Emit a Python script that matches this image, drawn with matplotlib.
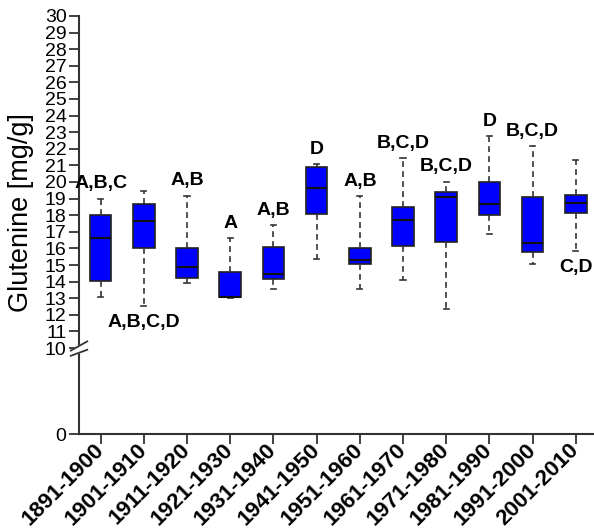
import numpy as np
import matplotlib
matplotlib.use("Agg")
import matplotlib.pyplot as plt
import matplotlib.transforms as mtransforms

plt.rcParams['font.family'] = ['Liberation Sans', 'DejaVu Sans']

# decades and box statistics
decades = ['1891-1900', '1901-1910', '1911-1920', '1921-1930', '1931-1940', '1941-1950',
           '1951-1960', '1961-1970', '1971-1980', '1981-1990', '1991-2000', '2001-2010']
whislo = [13.07, 12.53, 13.94, 13.00, 13.55, 15.38, 13.58, 14.12, 12.38, 16.86, 15.08, 15.86]
q1 = [14.03, 16.04, 14.21, 13.10, 14.15, 18.10, 15.04, 16.12, 16.36, 18.02, 15.80, 18.16]
med = [16.60, 17.68, 14.87, 13.10, 14.48, 19.62, 15.29, 17.74, 19.08, 18.70, 16.31, 18.72]
q3 = [18.04, 18.66, 16.00, 14.57, 16.06, 20.90, 16.03, 18.50, 19.38, 19.98, 19.08, 19.20]
whishi = [19.00, 19.46, 19.16, 16.60, 17.40, 21.08, 19.15, 21.44, 20.02, 22.76, 22.14, 21.34]

# significance groups and where they sit
groups = ['A,B,C', 'A,B,C,D', 'A,B', 'A', 'A,B', 'D', 'A,B', 'B,C,D', 'B,C,D', 'D', 'B,C,D', 'C,D']
group_pos = ['up', 'down', 'up', 'up', 'up', 'up', 'up', 'up', 'up', 'up', 'up', 'down']

yticks = [0] + list(range(10, 31))

# broken axis: below 10 the scale is squeezed
k = 0.518
def fwd(y):
    y = np.asarray(y, dtype=float)
    return np.where(y >= 10, y, 10 - (10 - y) * k)
def inv(t):
    t = np.asarray(t, dtype=float)
    return np.where(t >= 10, t, 10 - (10 - t) / k)

fig = plt.figure(figsize=(5.94, 5.30), dpi=100)
ax = fig.add_axes([0.133, 0.181, 0.867, 0.789])
ax.set_yscale('function', functions=(fwd, inv))

stats = []
for i in range(len(decades)):
    stats.append(dict(med=med[i], q1=q1[i], q3=q3[i], whislo=whislo[i], whishi=whishi[i], fliers=[]))

pos = np.arange(len(decades))
ax.bxp(stats, positions=pos, widths=0.5, patch_artist=True, showfliers=False,
       capwidths=0.12,
       boxprops=dict(facecolor='#0000ff', edgecolor='#222222', linewidth=1.2),
       medianprops=dict(color='#111111', linewidth=1.5),
       whiskerprops=dict(color='#333333', linewidth=1.2, linestyle=(0, (3.5, 2.5))),
       capprops=dict(color='#333333', linewidth=1.2))

for i in range(len(decades)):
    if group_pos[i] == 'up':
        ax.text(pos[i], whishi[i] + 0.9, groups[i], ha='center', va='center',
                fontsize=14, fontweight='bold')
    else:
        ax.text(pos[i], whislo[i] - 1.0, groups[i], ha='center', va='center',
                fontsize=14, fontweight='bold')

ax.set_xlim(-0.5, 11.42)
ax.set_ylim(0, 30)
ax.set_yticks(yticks)
ax.set_yticklabels([str(t) for t in yticks])
ax.set_xticks(pos)
ax.set_xticklabels(decades, rotation=45, ha='right', va='center', rotation_mode='anchor',
                   fontsize=16, fontweight='bold')
for lab in ax.get_xticklabels():
    lab.set_transform(lab.get_transform() + mtransforms.ScaledTranslation(0.3, -0.03, fig.dpi_scale_trans))

ax.tick_params(axis='y', labelsize=14, length=7, width=1.3, pad=2, color='#333333')
ax.tick_params(axis='x', length=7, width=1.3, pad=2, color='#333333')
ax.spines['top'].set_visible(False)
ax.spines['right'].set_visible(False)
for s in ['left', 'bottom']:
    ax.spines[s].set_linewidth(1.5)
    ax.spines[s].set_color('#333333')

ax.set_ylabel('Glutenine [mg/g]', fontsize=19.5)
ax.yaxis.set_label_coords(-0.088, 0.53)

# break marks on the y axis
tr = mtransforms.blended_transform_factory(ax.transAxes, ax.transData)
dx = 0.016
y_up, y_lo = 10.05, 9.45
rise = 0.35
ax.fill([-dx, dx, dx, -dx], [y_lo - rise, y_lo + rise, y_up + rise, y_up - rise],
        color='white', transform=tr, clip_on=False, zorder=5)
for yb in [y_up, y_lo]:
    ax.plot([-dx, dx], [yb - rise, yb + rise], color='#333333', lw=1.3,
            transform=tr, clip_on=False, zorder=6)

fig.savefig('out.png', dpi=100)
